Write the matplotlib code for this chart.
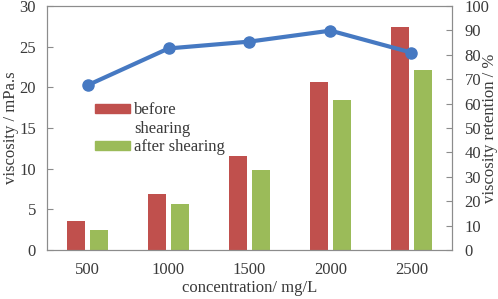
import matplotlib
matplotlib.use("Agg")
import matplotlib.pyplot as plt
from matplotlib.patches import Patch
import numpy as np

concentrations = ["500", "1000", "1500", "2000", "2500"]
before_shearing = [3.6, 6.85, 11.5, 20.6, 27.4]
after_shearing = [2.4, 5.6, 9.8, 18.5, 22.1]
retention = [67.5, 82.6, 85.4, 89.9, 80.9]

plt.rcParams['font.family'] = ['Liberation Serif', 'DejaVu Serif']
plt.rcParams['font.size'] = 12
txt = '#3a3a3a'
edge = '#8c8c8c'
red = '#C0504D'
green = '#9BBB59'

fig = plt.figure(figsize=(4.98, 2.99), dpi=100)
ax = fig.add_axes([0.0944, 0.1639, 0.8132, 0.8161])
x = np.arange(len(concentrations))
w = 0.22
ax.bar(x - 0.14, before_shearing, w, color=red)
ax.bar(x + 0.14, after_shearing, w, color=green)
ax.set_xlim(-0.5, 4.5)
ax.set_ylim(0, 30)
ax.set_yticks(range(0, 31, 5))
ax.set_xticks(x)
ax.set_xticklabels(concentrations)
ax.tick_params(axis='x', length=0, pad=9, colors=txt)
ax.tick_params(axis='y', direction='in', length=4, color=edge, labelcolor=txt, pad=8)
for s in ax.spines.values():
    s.set_color(edge)
ax.set_ylabel('viscosity / mPa.s', color=txt, labelpad=0)
ax.set_xlabel('concentration/ mg/L', color=txt, labelpad=1)

ax2 = ax.twinx()
ax2.plot(x, retention, color='#4679C2', lw=3, marker='o', ms=8)
ax2.set_ylim(0, 100)
ax2.set_yticks(range(0, 101, 10))
ax2.tick_params(axis='y', direction='in', length=4, color=edge, labelcolor=txt, pad=9)
for s in ax2.spines.values():
    s.set_color(edge)
ax2.set_ylabel('viscosity retention / %', color=txt, labelpad=-5)

# legend: "before shearing" wraps onto a second line with the patch on the first
handles = [Patch(color=red), Patch(color='none'), Patch(color=green)]
labels = ['before', 'shearing', 'after shearing']
ax.legend(handles, labels, loc='upper left', bbox_to_anchor=(0.102, 0.632),
          frameon=False, handlelength=2.1, handleheight=0.4, handletextpad=0.25,
          labelspacing=0.15, borderaxespad=0, labelcolor=txt)

fig.savefig('out.png', dpi=100)
